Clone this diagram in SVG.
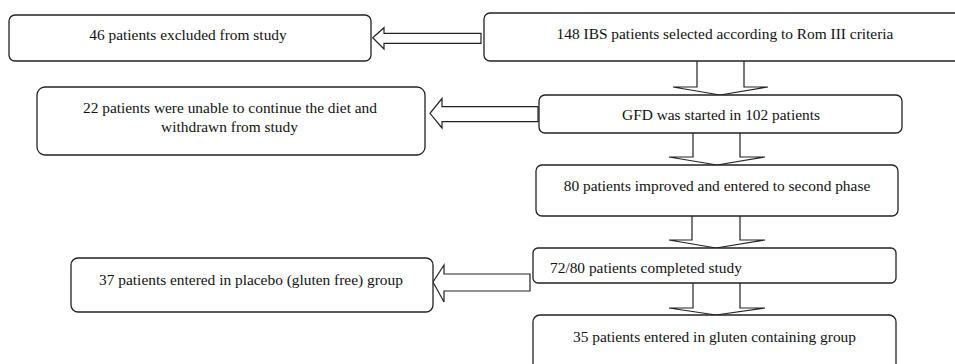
<svg xmlns="http://www.w3.org/2000/svg" width="955" height="364" viewBox="0 0 955 364">
<style>
.box{fill:#fff;stroke:#222;stroke-width:1.3}
.arr{fill:#fff;stroke:#222;stroke-width:1.2;stroke-linejoin:miter}
text{font-family:'Liberation Serif',Tinos,'DejaVu Serif',serif;font-size:15.4px;fill:#111}
.c{text-anchor:middle}
</style>
<rect width="955" height="364" fill="#fff"/>
<g id="connectors">
<path class="arr" d="M481,33.3 L384,33.3 L384,27.7 L372.7,37.7 L384,49 L384,43.3 L481,43.3 Z"/>
<path class="arr" d="M538,106.7 L442,106.7 L442,98.5 L430,113.3 L442,128 L442,121.7 L538,121.7 Z"/>
<path class="arr" d="M530,274 L444,274 L444,265 L433,282 L444,302 L444,291 L530,291 Z"/>
<path class="arr" d="M697,61 L697,87 L673,87 L720,95 L768,87 L744,87 L744,61"/>
<path class="arr" d="M693,133 L693,157 L669,157 L717,165 L765,157 L740,157 L740,133"/>
<path class="arr" d="M692,216 L692,240 L669,240 L716,248 L765,240 L740,240 L740,216"/>
<path class="arr" d="M693,283 L693,308 L669,308 L716,315 L765,308 L740,308 L740,283"/>
</g>
<g id="n148">
<rect class="box" x="484" y="13" width="480" height="48" rx="6"/>
<text class="c" x="725" y="38.5">148 IBS patients selected according to Rom III criteria</text>
</g>
<g id="n46">
<rect class="box" x="9" y="15" width="362" height="46" rx="6"/>
<text class="c" x="188" y="40">46 patients excluded from study</text>
</g>
<g id="nGFD">
<rect class="box" x="539" y="95" width="363" height="38" rx="6"/>
<text class="c" x="721" y="120">GFD was started in 102 patients</text>
</g>
<g id="n22">
<rect class="box" x="37" y="87" width="388" height="68" rx="8"/>
<text class="c" x="230" y="113">22 patients were unable to continue the diet and</text>
<text class="c" x="229.5" y="131.5">withdrawn from study</text>
</g>
<g id="n80">
<rect class="box" x="536" y="165" width="362" height="51" rx="6"/>
<text class="c" x="717" y="190.5">80 patients improved and entered to second phase</text>
</g>
<g id="n72">
<rect class="box" x="533" y="248" width="363" height="35" rx="5"/>
<text x="550" y="272.5">72/80 patients completed study</text>
</g>
<g id="n37">
<rect class="box" x="71" y="258" width="362" height="54" rx="7"/>
<text class="c" x="251" y="285">37 patients entered in placebo (gluten free) group</text>
</g>
<g id="n35">
<rect class="box" x="533" y="315" width="363" height="60" rx="7"/>
<text class="c" x="714.5" y="341.5">35 patients entered in gluten containing group</text>
</g>
</svg>
